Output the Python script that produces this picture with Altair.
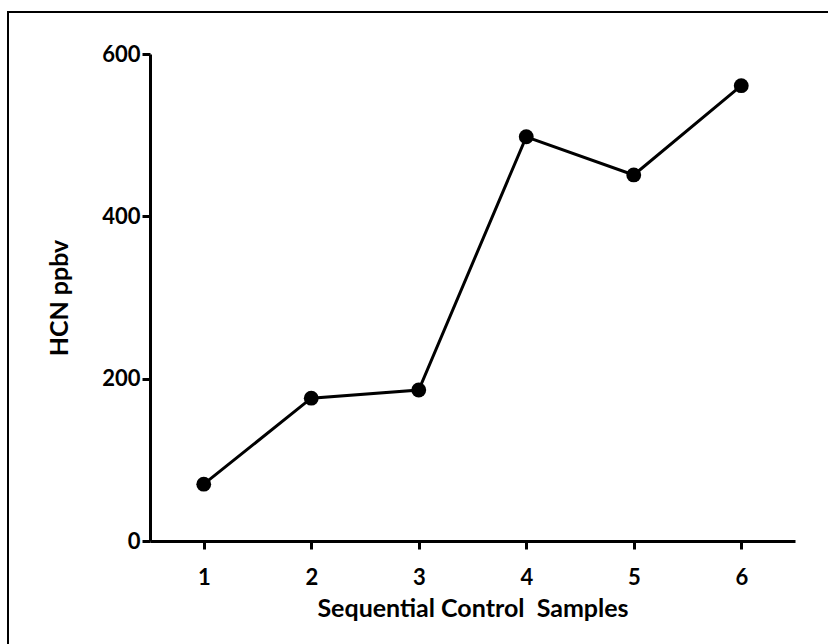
import altair as alt
import pandas as pd

samples = [1, 2, 3, 4, 5, 6]
hcn_ppbv = [70, 176, 186, 498, 451, 561]
x_ticks = [1, 2, 3, 4, 5, 6]
y_ticks = [0, 200, 400, 600]

df = pd.DataFrame({"sample": samples, "hcn": hcn_ppbv})

FONT = "Lato"

x_enc = alt.X("sample:Q",
              scale=alt.Scale(domain=[0.5, 6.5], nice=False, zero=False),
              axis=alt.Axis(values=x_ticks, title="Sequential Control\u00a0 Samples",
                            format="d", grid=False, domainWidth=3, domainColor="black",
                            tickWidth=3, tickSize=8, tickColor="black",
                            labelFont=FONT, labelFontSize=22, labelFontWeight="bold",
                            labelColor="black", labelPadding=18,
                            titleFont=FONT, titleFontSize=25, titleFontWeight="bold",
                            titleColor="black", titlePadding=8))
y_enc = alt.Y("hcn:Q",
              scale=alt.Scale(domain=[0, 600], nice=False),
              axis=alt.Axis(values=y_ticks, title="HCN ppbv", grid=False,
                            domainWidth=3, domainColor="black",
                            tickWidth=3, tickSize=8, tickColor="black",
                            labelFont=FONT, labelFontSize=22, labelFontWeight="bold",
                            labelColor="black", labelPadding=2,
                            titleFont=FONT, titleFontSize=25, titleFontWeight="bold",
                            titleColor="black", titlePadding=29))

line = alt.Chart(df).mark_line(color="black", strokeWidth=3).encode(x=x_enc, y=y_enc)
pts = alt.Chart(df).mark_point(filled=True, color="black", size=220, opacity=1).encode(
    x="sample:Q", y="hcn:Q")

frame_top = alt.Chart(df).mark_rule(color="black", strokeWidth=2).encode(
    x=alt.value(-142), x2=alt.value(700), y=alt.value(-42))
frame_left = alt.Chart(df).mark_rule(color="black", strokeWidth=2).encode(
    x=alt.value(-142), y=alt.value(-43), y2=alt.value(600))

chart = alt.layer(frame_top, frame_left, line, pts).properties(
    width=645, height=487,
    autosize=alt.AutoSizeParams(type="none"),
    padding={"left": 150, "top": 54, "right": 33, "bottom": 103},
    background="white",
).configure_view(stroke=None)

chart.save("out.html", embed_options={"renderer": "svg", "actions": False})
